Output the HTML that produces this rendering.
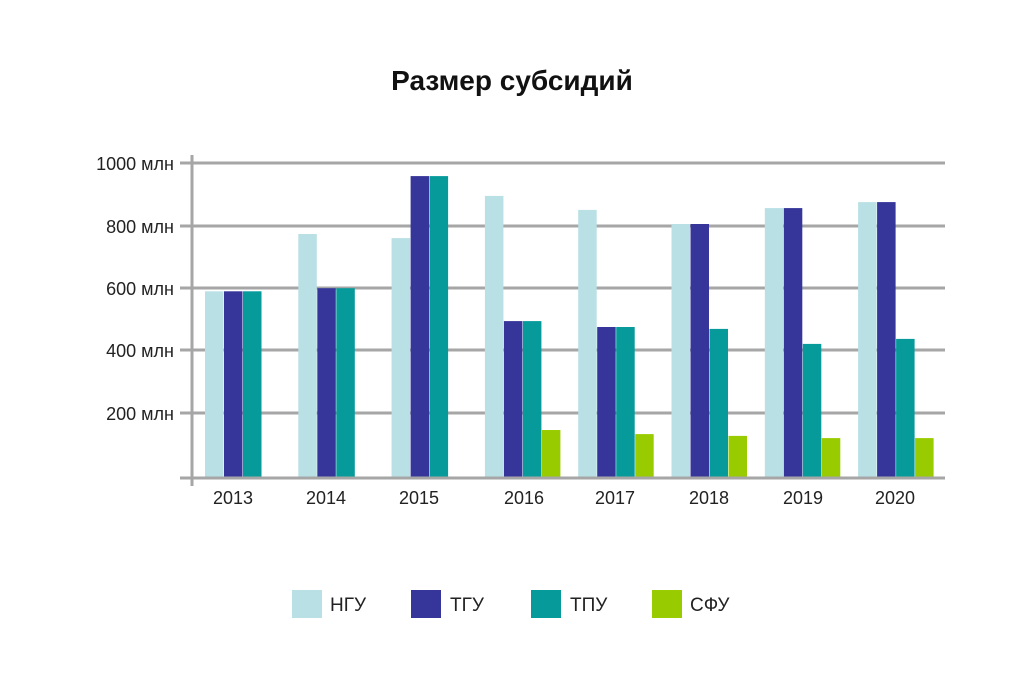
<!DOCTYPE html>
<html><head><meta charset="utf-8"><style>
html,body{margin:0;padding:0;background:#fff;}
svg{display:block;font-family:"Liberation Sans",sans-serif;}
</style></head><body>
<svg width="1024" height="683" viewBox="0 0 1024 683" xmlns="http://www.w3.org/2000/svg">
<rect width="1024" height="683" fill="#fff"/>
<text x="512" y="90" text-anchor="middle" font-size="28" font-weight="bold" fill="#111">Размер субсидий</text>
<g stroke="#a6a6a6" stroke-width="3">
<line x1="180" y1="163" x2="945" y2="163"/>
<line x1="180" y1="226" x2="945" y2="226"/>
<line x1="180" y1="288" x2="945" y2="288"/>
<line x1="180" y1="350" x2="945" y2="350"/>
<line x1="180" y1="413" x2="945" y2="413"/>
</g>
<g>
<rect x="205" y="291.3" width="18.5" height="185.7" fill="#b9e0e5"/>
<rect x="224" y="291.3" width="18.5" height="185.7" fill="#35359a"/>
<rect x="243" y="291.3" width="18.5" height="185.7" fill="#069a9a"/>

<rect x="298.3" y="234" width="18.5" height="243" fill="#b9e0e5"/>
<rect x="317.3" y="288.2" width="18.5" height="188.8" fill="#35359a"/>
<rect x="336.3" y="288.2" width="18.5" height="188.8" fill="#069a9a"/>

<rect x="391.6" y="238.1" width="18.5" height="238.9" fill="#b9e0e5"/>
<rect x="410.6" y="176.1" width="18.5" height="300.9" fill="#35359a"/>
<rect x="429.6" y="176.1" width="18.5" height="300.9" fill="#069a9a"/>

<rect x="484.9" y="195.9" width="18.5" height="281.1" fill="#b9e0e5"/>
<rect x="503.9" y="321.1" width="18.5" height="155.9" fill="#35359a"/>
<rect x="522.9" y="321.1" width="18.5" height="155.9" fill="#069a9a"/>
<rect x="541.9" y="430" width="18.5" height="47" fill="#99cc00"/>

<rect x="578.2" y="209.9" width="18.5" height="267.1" fill="#b9e0e5"/>
<rect x="597.2" y="327" width="18.5" height="150" fill="#35359a"/>
<rect x="616.2" y="327" width="18.5" height="150" fill="#069a9a"/>
<rect x="635.2" y="434.1" width="18.5" height="42.9" fill="#99cc00"/>

<rect x="671.5" y="224" width="18.5" height="253" fill="#b9e0e5"/>
<rect x="690.5" y="224" width="18.5" height="253" fill="#35359a"/>
<rect x="709.5" y="328.9" width="18.5" height="148.1" fill="#069a9a"/>
<rect x="728.5" y="435.9" width="18.5" height="41.1" fill="#99cc00"/>

<rect x="764.8" y="208.1" width="18.5" height="268.9" fill="#b9e0e5"/>
<rect x="783.8" y="208.1" width="18.5" height="268.9" fill="#35359a"/>
<rect x="802.8" y="343.9" width="18.5" height="133.1" fill="#069a9a"/>
<rect x="821.8" y="438.1" width="18.5" height="38.9" fill="#99cc00"/>

<rect x="858.1" y="202.1" width="18.5" height="274.9" fill="#b9e0e5"/>
<rect x="877.1" y="202.1" width="18.5" height="274.9" fill="#35359a"/>
<rect x="896.1" y="338.9" width="18.5" height="138.1" fill="#069a9a"/>
<rect x="915.1" y="438.1" width="18.5" height="38.9" fill="#99cc00"/>
</g>
<g stroke="#a6a6a6" stroke-width="3">
<line x1="180" y1="478" x2="945" y2="478"/>
<line x1="192" y1="155" x2="192" y2="486"/>
</g>
<g font-size="18" fill="#222" text-anchor="end">
<text x="174" y="170">1000 млн</text>
<text x="174" y="233">800 млн</text>
<text x="174" y="295">600 млн</text>
<text x="174" y="357">400 млн</text>
<text x="174" y="420">200 млн</text>
</g>
<g font-size="18" fill="#222" text-anchor="middle">
<text x="233" y="504">2013</text><text x="326" y="504">2014</text><text x="419" y="504">2015</text>
<text x="524" y="504">2016</text><text x="615" y="504">2017</text><text x="709" y="504">2018</text>
<text x="803" y="504">2019</text><text x="895" y="504">2020</text>
</g>
<g font-size="19" fill="#222">
<rect x="292" y="590" width="30" height="28" fill="#b9e0e5"/><text x="330" y="611">НГУ</text>
<rect x="411" y="590" width="30" height="28" fill="#35359a"/><text x="450" y="611">ТГУ</text>
<rect x="531" y="590" width="30" height="28" fill="#069a9a"/><text x="570" y="611">ТПУ</text>
<rect x="652" y="590" width="30" height="28" fill="#99cc00"/><text x="690" y="611">СФУ</text>
</g>
</svg>
</body></html>
